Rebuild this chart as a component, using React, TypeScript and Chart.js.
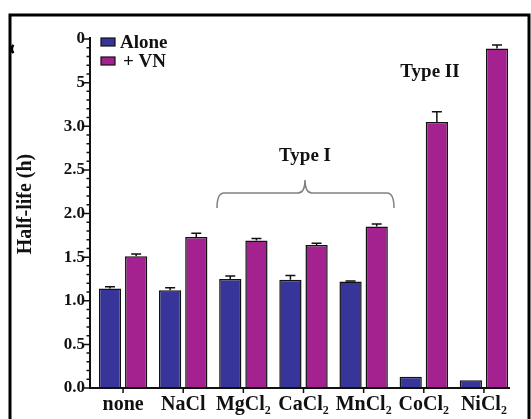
import React, { useEffect, useRef } from "react";
import { Chart, registerables } from "chart.js";
Chart.register(...registerables);

const categories = ["none", "NaCl", "MgCl₂", "CaCl₂", "MnCl₂", "CoCl₂", "NiCl₂"];
const aloneValues = [1.14, 1.12, 1.25, 1.24, 1.22, 0.13, 0.09];
const vnValues = [1.51, 1.73, 1.69, 1.64, 1.85, 3.05, 3.89];
const aloneErrors = [0.02, 0.03, 0.035, 0.05, 0.005, 0, 0];
const vnErrors = [0.025, 0.045, 0.023, 0.02, 0.03, 0.115, 0.04];
const yTickLabels = ["0.0", "0.5", "1.0", "1.5", "2.0", "2.5", "3.0", "5", "0"];
const seriesNames = ["Alone", "+ VN"];
const groupLabels = ["Type I", "Type II"];
const yTitle = "Half-life (h)";

const SERIF = "'Liberation Serif', 'Times New Roman', serif";
const BLUE = "#37349a";
const MAGENTA = "#a4228f";

const decorPlugin = {
  id: "decor",
  afterDatasetsDraw(chart: any) {
    const ctx = chart.ctx;
    const y = chart.scales.y;
    const errs = [aloneErrors, vnErrors];
    const vals = [aloneValues, vnValues];
    ctx.save();
    // error bars
    ctx.strokeStyle = "#111";
    ctx.lineWidth = 1.5;
    for (let d = 0; d < 2; d++) {
      const meta = chart.getDatasetMeta(d);
      meta.data.forEach((bar: any, j: number) => {
        const e = errs[d][j];
        if (!e) return;
        const top = y.getPixelForValue(vals[d][j] + e);
        ctx.beginPath();
        ctx.moveTo(bar.x, bar.y);
        ctx.lineTo(bar.x, top);
        ctx.moveTo(bar.x - 5, top);
        ctx.lineTo(bar.x + 5, top);
        ctx.stroke();
      });
    }
    // axes
    const axisX = 90;
    const axisY = y.getPixelForValue(0);
    ctx.strokeStyle = "#111";
    ctx.lineWidth = 2;
    ctx.beginPath();
    ctx.moveTo(axisX, y.getPixelForValue(4) - 2);
    ctx.lineTo(axisX, axisY);
    ctx.lineTo(510, axisY);
    ctx.stroke();
    ctx.lineWidth = 1.5;
    ctx.beginPath();
    for (let k = 0; k <= 40; k++) {
      const py = y.getPixelForValue(k / 10);
      const len = k % 5 === 0 ? 6 : 3.5;
      ctx.moveTo(axisX - len, py);
      ctx.lineTo(axisX, py);
    }
    const xs = chart.scales.x;
    categories.forEach((_, i) => {
      const px = xs.getPixelForValue(i);
      ctx.moveTo(px, axisY);
      ctx.lineTo(px, axisY + 5);
    });
    ctx.stroke();

    // legend
    const colors = [BLUE, MAGENTA];
    ctx.font = `bold 19px ${SERIF}`;
    ctx.textBaseline = "middle";
    ctx.textAlign = "left";
    seriesNames.forEach((name, i) => {
      const cy = 42 + i * 19;
      ctx.fillStyle = colors[i];
      ctx.fillRect(101, cy - 4, 14, 8);
      ctx.strokeStyle = "#111";
      ctx.lineWidth = 1.2;
      ctx.strokeRect(101, cy - 4, 14, 8);
      ctx.fillStyle = "#111";
      ctx.fillText(name, i === 0 ? 120 : 123, cy + 1);
    });

    // y title
    ctx.save();
    ctx.translate(26, 204);
    ctx.rotate(-Math.PI / 2);
    ctx.font = `bold 20px ${SERIF}`;
    ctx.textAlign = "center";
    ctx.fillStyle = "#111";
    ctx.fillText(yTitle, 0, 0);
    ctx.restore();

    // group labels
    ctx.font = `bold 19px ${SERIF}`;
    ctx.textAlign = "center";
    ctx.fillStyle = "#111";
    ctx.fillText(groupLabels[0], 305, 156);
    ctx.fillText(groupLabels[1], 430, 72);

    // brace
    ctx.strokeStyle = "#808080";
    ctx.lineWidth = 1.5;
    ctx.beginPath();
    ctx.moveTo(217, 208);
    ctx.quadraticCurveTo(217, 193, 224, 193);
    ctx.lineTo(298, 193);
    ctx.quadraticCurveTo(305, 193, 305, 180);
    ctx.quadraticCurveTo(305, 193, 312, 193);
    ctx.lineTo(387, 193);
    ctx.quadraticCurveTo(394, 193, 394, 208);
    ctx.stroke();

    // frame
    ctx.strokeStyle = "#000";
    ctx.lineWidth = 3;
    ctx.strokeRect(10, 15, 519, 430);
    // small fragment at left
    ctx.lineWidth = 2.5;
    ctx.beginPath();
    ctx.arc(19, 49, 7, Math.PI * 0.8, Math.PI * 1.2);
    ctx.stroke();
    ctx.restore();
  },
};

export default function App() {
  const ref = useRef<HTMLCanvasElement>(null);
  useEffect(() => {
    if (!ref.current) return;
    const chart = new Chart(ref.current, {
      type: "bar",
      data: {
        labels: categories,
        datasets: [
          {
            label: seriesNames[0],
            data: aloneValues,
            backgroundColor: BLUE,
            borderColor: "#111",
            borderWidth: 1.5,
            categoryPercentage: 0.87,
            barPercentage: 0.85,
          },
          {
            label: seriesNames[1],
            data: vnValues,
            backgroundColor: MAGENTA,
            borderColor: "#111",
            borderWidth: 1.5,
            categoryPercentage: 0.87,
            barPercentage: 0.85,
          },
        ],
      },
      options: {
        responsive: false,
        animation: false,
        layout: { padding: { left: 0, right: 17, top: 39, bottom: 0 } },
        plugins: { legend: { display: false }, tooltip: { enabled: false } },
        scales: {
          x: {
            grid: { display: false, drawTicks: false },
            border: { display: false },
            ticks: {
              padding: 5,
              color: "#111",
              maxRotation: 0,
              autoSkip: false,
              font: { family: SERIF, size: 20, weight: "bold" },
            },
            afterFit: (s: any) => {
              s.height = 31;
            },
          },
          y: {
            min: 0,
            max: 4,
            grid: { display: false, drawTicks: false },
            border: { display: false },
            ticks: {
              stepSize: 0.5,
              padding: 8,
              color: "#111",
              font: { family: SERIF, size: 17, weight: "bold" },
              callback: (_v: any, i: number) => yTickLabels[i],
            },
            afterFit: (s: any) => {
              s.width = 93;
            },
          },
        },
      },
      plugins: [decorPlugin],
    });
    return () => chart.destroy();
  }, []);
  return (
    <div style={{ position: "absolute", left: 0, top: 0, width: 531, height: 419, background: "#fff" }}>
      <canvas ref={ref} width={531} height={419} />
    </div>
  );
}
